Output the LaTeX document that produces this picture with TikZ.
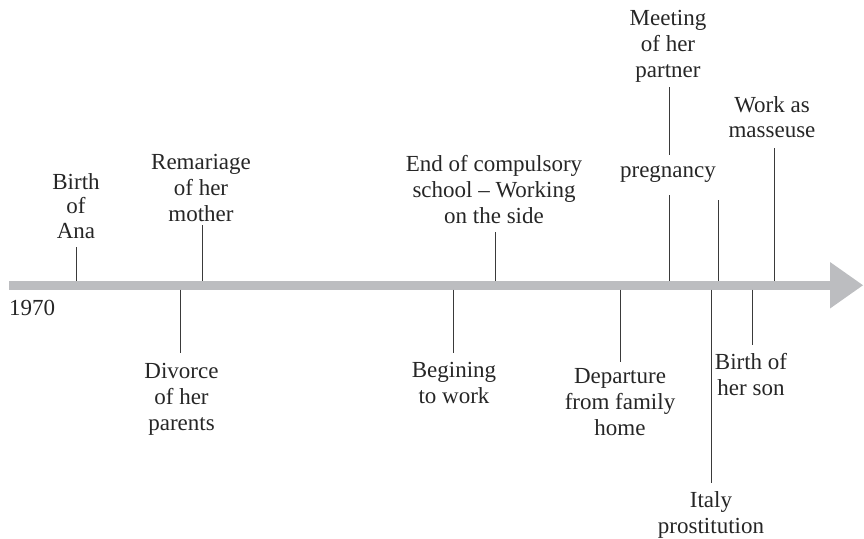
\documentclass[tikz,border=0pt]{standalone}
\usepackage{fontspec}
\setmainfont{Liberation Serif}
\definecolor{axisgray}{HTML}{BCBDC0}
\definecolor{tickgray}{HTML}{3A3A3A}
\begin{document}
\begin{tikzpicture}[x=1pt,y=-1pt,
  lbl/.style={inner sep=0pt,anchor=base,align=center,text=black!85,
    font=\fontsize{23}{26}\selectfont},
  tight/.style={font=\fontsize{23}{24.5}\selectfont},
  tick/.style={draw=tickgray,line width=0.9pt}]
\useasboundingbox (0,0) rectangle (864,538);

% time axis: thick grey bar with a triangular head
\fill[axisgray] (9,281) rectangle (831,289.5);
\fill[axisgray] (830,262) -- (863,285.25) -- (830,308.5) -- cycle;
\node[lbl,anchor=base west] (year) at (9,315.5) {1970};

% events above the axis (positions give the baseline of the last line)
\node[lbl,tight] (ana) at (76,238) {Birth\\of\\Ana};
\node[lbl] (remar) at (201,221) {Remariage\\of her\\mother};
\node[lbl] (school) at (494,223) {End of compulsory\\school -- Working\\on the side};
\node[lbl] (meet) at (668,77) {Meeting\\of her\\partner};
\node[lbl] (preg) at (668,177) {pregnancy};
\node[lbl,tight] (mass) at (772,137) {Work as\\masseuse};

% events below the axis
\node[lbl] (divorce) at (181.5,430) {Divorce\\of her\\parents};
\node[lbl] (work) at (454,403) {Begining\\to work};
\node[lbl] (depart) at (620,435) {Departure\\from family\\home};
\node[lbl] (son) at (751,395) {Birth of\\her son};
\node[lbl] (italy) at (711,533) {Italy\\prostitution};

% tick ends
\coordinate (anaT) at (76,247);   \coordinate (anaA) at (76,281);
\coordinate (remT) at (202,225);  \coordinate (remA) at (202,281);
\coordinate (schT) at (495,232);  \coordinate (schA) at (495,281);
\coordinate (meeT) at (669,87);   \coordinate (meeB) at (669,155);
\coordinate (preT) at (669,195);  \coordinate (preA) at (669,281);
\coordinate (midT) at (718,200);  \coordinate (midA) at (718,281);
\coordinate (masT) at (774,148);  \coordinate (masA) at (774,281);
\coordinate (divA) at (180,289.5);  \coordinate (divB) at (180,353);
\coordinate (worA) at (453,289.5);  \coordinate (worB) at (453,353);
\coordinate (depA) at (620,289.5);  \coordinate (depB) at (620,362);
\coordinate (itaA) at (711,289.5);  \coordinate (itaB) at (711,483);
\coordinate (sonA) at (752,289.5);  \coordinate (sonB) at (752,345);

\draw[tick] (anaT) -- (anaA);
\draw[tick] (remT) -- (remA);
\draw[tick] (schT) -- (schA);
\draw[tick] (meeT) -- (meeB);
\draw[tick] (preT) -- (preA);
\draw[tick] (midT) -- (midA);
\draw[tick] (masT) -- (masA);
\draw[tick] (divA) -- (divB);
\draw[tick] (worA) -- (worB);
\draw[tick] (depA) -- (depB);
\draw[tick] (itaA) -- (itaB);
\draw[tick] (sonA) -- (sonB);
\end{tikzpicture}
\end{document}
